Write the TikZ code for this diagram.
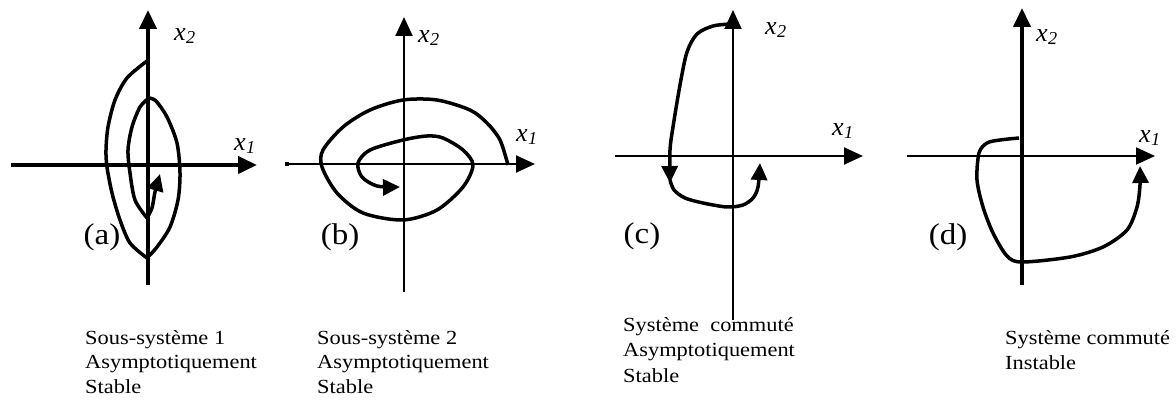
\documentclass[tikz,border=0pt]{standalone}
\usepackage{fontspec}
\setmainfont{Liberation Serif}
\usetikzlibrary{arrows.meta}
\newcommand\xlab[1]{\textit{x}\kern0.5pt\textsubscript{\textit{#1}}}
\begin{document}
\begin{tikzpicture}[x=1pt,y=-1pt,
  axthick/.style={line width=4pt},
  axthin/.style={line width=2pt},
  traj/.style={line width=3.5pt, line join=round},
  axtip/.style={-{Triangle[length=19pt,width=17pt]}},
  trtip/.style={-{Triangle[length=17pt,width=16pt]}},
  lab/.style={font=\fontsize{26}{26}\selectfont, inner sep=0pt},
  tag/.style={font=\fontsize{30}{30}\selectfont, xscale=1.1, inner sep=0pt},
  captxt/.style={font=\fontsize{20}{24}\selectfont, xscale=1.12, anchor=base west, inner sep=0pt}
]
\useasboundingbox (0,0) rectangle (1176,403);

% ---------- panel (a)
\coordinate (aVb) at (148,285); \coordinate (aVt) at (148,10);
\coordinate (aHl) at (11,165);  \coordinate (aHr) at (257,165);
\draw[axthick,axtip] (aVb) -- (aVt);
\draw[axthick,axtip] (aHl) -- (aHr);
\draw[traj] plot[smooth] coordinates {(147,61)(127,78)(115,100)(108,127)(106,150)(107,167)(112,193)(120,220)(130,243)(147,258)};
\draw[traj] plot[smooth] coordinates {(147,258)(157,247)(170,227)(178,200)(180,173)(177,143)(167,117)(156,101)(149,98)};
\draw[traj] plot[smooth] coordinates {(149,98)(140,107)(132,127)(128,150)(130,173)(135,200)(147,218)};
\draw[traj,trtip] plot[smooth] coordinates {(147,218)(152,208)(155,192)(160,174)};
\fill (285,162) rectangle (289,166);
\node[lab] (ax2) at (185,36) {\xlab{2}};
\node[lab] (ax1) at (245,146) {\xlab{1}};
\node[tag] (atag) at (102,237) {(a)};

% ---------- panel (b)
\coordinate (bVb) at (404,292); \coordinate (bVt) at (404,17);
\coordinate (bHl) at (286,164); \coordinate (bHr) at (535,164);
\draw[axthin,axtip] (bVb) -- (bVt);
\draw[axthin,axtip] (bHl) -- (bHr);
\draw[traj,trtip] plot[smooth] coordinates {(508,165)(500,140)(487,123)(470,110)(437,100)(403,100)(370,110)(343,127)(323,150)(322,167)(337,193)(363,213)(403,220)(437,210)(463,187)(473,165)(463,150)(443,138)(427,136)(403,140)(370,150)(358,163)(362,177)(377,186)(400,187)};
\node[lab] (bx2) at (429,38) {\xlab{2}};
\node[lab] (bx1) at (527,137) {\xlab{1}};
\node[tag] (btag) at (340,237) {(b)};

% ---------- panel (c)
\coordinate (cVb) at (733,320); \coordinate (cVt) at (733,10);
\coordinate (cHl) at (615,156); \coordinate (cHr) at (863,156);
\draw[axthin,axtip] (cVb) -- (cVt);
\draw[axthin,axtip] (cHl) -- (cHr);
\draw[traj,trtip] plot[smooth] coordinates {(731,24)(713,26)(697,34)(687,52)(680,85)(673,127)(670,150)(670,183)};
\draw[traj,trtip] plot[smooth] coordinates {(670,180)(674,190)(685,198)(703,203)(727,207)(743,205)(753,198)(758,187)(760,163)};
\node[lab] (cx2) at (776,30) {\xlab{2}};
\node[lab] (cx1) at (843,131) {\xlab{1}};
\node[tag] (ctag) at (642,236) {(c)};

% ---------- panel (d)
\coordinate (dVb) at (1022,285); \coordinate (dVt) at (1022,8);
\coordinate (dHl) at (907,156);  \coordinate (dHr) at (1155,156);
\draw[axthick,axtip] (dVb) -- (dVt);
\draw[axthin,axtip] (dHl) -- (dHr);
\draw[traj,trtip] plot[smooth] coordinates {(1019,138)(1000,140)(987,143)(979,153)(977,180)(983,207)(993,233)(1007,256)(1022,262)(1070,257)(1103,247)(1127,230)(1137,207)(1140,185)(1140,166)};
\node[lab] (dx2) at (1047,37) {\xlab{2}};
\node[lab] (dx1) at (1150,138) {\xlab{1}};
\node[tag] (dtag) at (948,237) {(d)};

% ---------- captions
\node[captxt] (ta1) at (85,345) {Sous-système 1};
\node[captxt] (ta2) at (85,369) {Asymptotiquement};
\node[captxt] (ta3) at (85,394) {Stable};
\node[captxt] (tb1) at (317,345) {Sous-système 2};
\node[captxt] (tb2) at (317,369) {Asymptotiquement};
\node[captxt] (tb3) at (317,394) {Stable};
\node[captxt] (tc1) at (623,332) {Système\ \ commuté};
\node[captxt] (tc2) at (623,357) {Asymptotiquement};
\node[captxt] (tc3) at (623,382) {Stable};
\node[captxt] (td1) at (1005,345) {Système commuté};
\node[captxt] (td2) at (1005,370) {Instable};
\end{tikzpicture}
\end{document}
